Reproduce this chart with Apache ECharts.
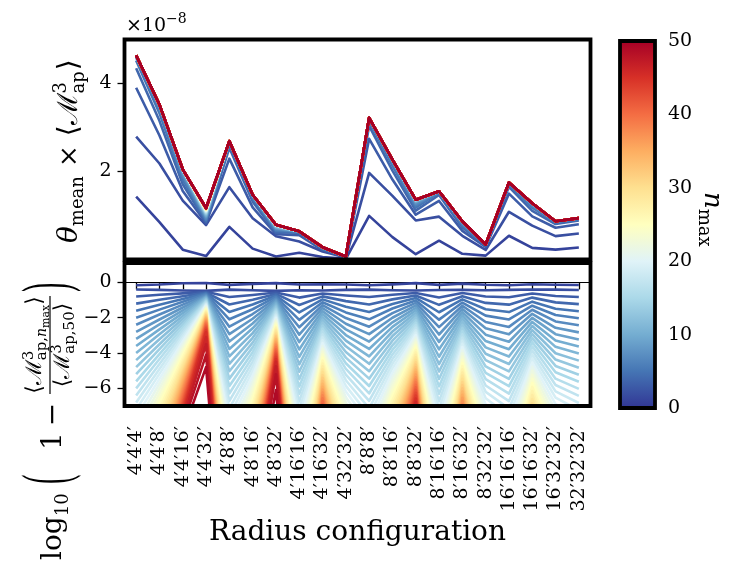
<!DOCTYPE html>
<html>
<head>
<meta charset="utf-8">
<title>Aperture mass convergence in n_max</title>
<script src="https://cdn.jsdelivr.net/npm/echarts@6/dist/echarts.min.js"></script>
<style>
  html, body { margin: 0; padding: 0; background: #fff; }
  #chart { width: 747px; height: 568px; }
</style>
</head>
<body>
<div id="chart"></div>
<script>
// radius configurations on the x axis
const radii = ["4′4′4′", "4′4′8′", "4′4′16′", "4′4′32′", "4′8′8′", "4′8′16′", "4′8′32′",
  "4′16′16′", "4′16′32′", "4′32′32′", "8′8′8′", "8′8′16′", "8′8′32′", "8′16′16′",
  "8′16′32′", "8′32′32′", "16′16′16′", "16′16′32′", "16′32′32′", "32′32′32′"];

// converged curve (n_max = 50) of the top panel, units of 1e-8
const m50 = [4.64, 3.52, 2.05, 1.17, 2.69, 1.47, 0.79, 0.64, 0.28, 0.07,
  3.22, 2.27, 1.36, 1.55, 0.87, 0.34, 1.75, 1.28, 0.87, 0.94];

// log10(1 - <M_ap,n>/<M_ap,50>) for n_max = 1..49, one array per radius configuration
const d444 = [-0.16, -0.40, -0.80, -1.20, -1.60, -2.00, -2.40, -2.80, -3.20, -3.60, -4.00, -4.40, -4.80, -5.20, -5.60, -6.00, -6.40, -6.80, -7.20, -7.60, -8.00, -8.40, -8.80, -9.20, -9.60, -10.00, -10.40, -10.80, -11.20, -11.60, -12.00, -12.40, -12.80, -13.20, -13.60, -14.00, -14.40, -14.80, -15.20, -15.60, -16.00, -16.40, -16.80, -17.20, -17.60, -18.00, -18.40, -18.80, -19.20];
const d448 = [-0.12, -0.42, -0.70, -0.98, -1.26, -1.54, -1.82, -2.10, -2.38, -2.66, -2.94, -3.22, -3.50, -3.78, -4.06, -4.34, -4.62, -4.90, -5.18, -5.46, -5.74, -6.02, -6.30, -6.58, -6.86, -7.14, -7.42, -7.70, -7.98, -8.26, -8.54, -8.82, -9.10, -9.38, -9.66, -9.94, -10.22, -10.50, -10.78, -11.06, -11.34, -11.62, -11.90, -12.18, -12.46, -12.74, -13.02, -13.30, -13.58];
const d4416 = [-0.05, -0.46, -0.62, -0.78, -0.94, -1.10, -1.26, -1.42, -1.58, -1.74, -1.90, -2.06, -2.22, -2.38, -2.54, -2.70, -2.86, -3.02, -3.18, -3.34, -3.50, -3.66, -3.82, -3.98, -4.14, -4.30, -4.46, -4.62, -4.78, -4.94, -5.10, -5.26, -5.42, -5.58, -5.74, -5.90, -6.06, -6.22, -6.38, -6.55, -6.72, -6.88, -7.05, -7.23, -7.42, -7.61, -7.84, -8.10, -8.49];
const d4432 = [-0.03, -0.48, -0.53, -0.57, -0.62, -0.66, -0.71, -0.76, -0.80, -0.85, -0.89, -0.94, -0.98, -1.03, -1.08, -1.12, -1.17, -1.22, -1.26, -1.31, -1.36, -1.40, -1.45, -1.50, -1.55, -1.60, -1.65, -1.70, -1.75, -1.80, -1.85, -1.90, -1.96, -2.01, -2.07, -2.13, -2.19, -2.25, -2.31, -2.38, -2.45, -2.53, -2.61, -2.70, -2.81, -3.10, -3.50, -4.10, -4.80];
const d488 = [-0.14, -0.41, -0.83, -1.25, -1.67, -2.09, -2.51, -2.93, -3.35, -3.77, -4.19, -4.61, -5.03, -5.45, -5.87, -6.29, -6.71, -7.13, -7.55, -7.97, -8.39, -8.81, -9.23, -9.65, -10.07, -10.49, -10.91, -11.33, -11.75, -12.17, -12.59, -13.01, -13.43, -13.85, -14.27, -14.69, -15.11, -15.53, -15.95, -16.37, -16.79, -17.21, -17.63, -18.05, -18.47, -18.89, -19.31, -19.73, -20.15];
const d4816 = [-0.08, -0.44, -0.71, -0.98, -1.25, -1.52, -1.79, -2.06, -2.33, -2.60, -2.87, -3.14, -3.41, -3.68, -3.95, -4.22, -4.49, -4.76, -5.03, -5.30, -5.57, -5.84, -6.11, -6.38, -6.65, -6.92, -7.19, -7.46, -7.73, -8.00, -8.27, -8.54, -8.81, -9.08, -9.35, -9.62, -9.89, -10.16, -10.43, -10.70, -10.97, -11.24, -11.51, -11.78, -12.05, -12.32, -12.59, -12.86, -13.13];
const d4832 = [-0.04, -0.48, -0.57, -0.65, -0.74, -0.82, -0.91, -0.99, -1.08, -1.16, -1.25, -1.33, -1.42, -1.50, -1.59, -1.67, -1.76, -1.84, -1.93, -2.01, -2.10, -2.18, -2.27, -2.35, -2.44, -2.52, -2.61, -2.70, -2.78, -2.87, -2.96, -3.04, -3.13, -3.22, -3.31, -3.40, -3.49, -3.58, -3.68, -3.78, -3.88, -3.98, -4.09, -4.21, -4.34, -4.49, -4.75, -5.20, -6.10];
const d41616 = [-0.12, -0.44, -0.86, -1.28, -1.70, -2.12, -2.54, -2.96, -3.38, -3.80, -4.22, -4.64, -5.06, -5.48, -5.90, -6.32, -6.74, -7.16, -7.58, -8.00, -8.42, -8.84, -9.26, -9.68, -10.10, -10.52, -10.94, -11.36, -11.78, -12.20, -12.62, -13.04, -13.46, -13.88, -14.30, -14.72, -15.14, -15.56, -15.98, -16.40, -16.82, -17.24, -17.66, -18.08, -18.50, -18.92, -19.34, -19.76, -20.18];
const d41632 = [-0.10, -0.46, -0.63, -0.79, -0.96, -1.12, -1.29, -1.45, -1.62, -1.78, -1.95, -2.11, -2.28, -2.44, -2.61, -2.77, -2.94, -3.10, -3.27, -3.43, -3.60, -3.76, -3.93, -4.09, -4.26, -4.42, -4.59, -4.75, -4.92, -5.08, -5.25, -5.41, -5.58, -5.74, -5.91, -6.07, -6.24, -6.40, -6.57, -6.74, -6.91, -7.08, -7.26, -7.44, -7.63, -7.83, -8.05, -8.32, -8.72];
const d43232 = [-0.12, -0.42, -0.74, -1.06, -1.38, -1.70, -2.02, -2.34, -2.66, -2.98, -3.30, -3.62, -3.94, -4.26, -4.58, -4.90, -5.22, -5.54, -5.86, -6.18, -6.50, -6.82, -7.14, -7.46, -7.78, -8.10, -8.42, -8.74, -9.06, -9.38, -9.70, -10.02, -10.34, -10.66, -10.98, -11.30, -11.62, -11.94, -12.26, -12.58, -12.90, -13.22, -13.54, -13.86, -14.18, -14.50, -14.82, -15.14, -15.46];
const d888 = [-0.16, -0.41, -0.83, -1.25, -1.67, -2.09, -2.51, -2.93, -3.35, -3.77, -4.19, -4.61, -5.03, -5.45, -5.87, -6.29, -6.71, -7.13, -7.55, -7.97, -8.39, -8.81, -9.23, -9.65, -10.07, -10.49, -10.91, -11.33, -11.75, -12.17, -12.59, -13.01, -13.43, -13.85, -14.27, -14.69, -15.11, -15.53, -15.95, -16.37, -16.79, -17.21, -17.63, -18.05, -18.47, -18.89, -19.31, -19.73, -20.15];
const d8816 = [-0.11, -0.44, -0.70, -0.96, -1.22, -1.48, -1.74, -2.00, -2.26, -2.52, -2.78, -3.04, -3.30, -3.56, -3.82, -4.08, -4.34, -4.60, -4.86, -5.12, -5.38, -5.64, -5.90, -6.16, -6.42, -6.68, -6.94, -7.20, -7.46, -7.72, -7.98, -8.24, -8.50, -8.76, -9.02, -9.28, -9.54, -9.80, -10.06, -10.32, -10.58, -10.84, -11.10, -11.36, -11.62, -11.88, -12.14, -12.40, -12.66];
const d8832 = [-0.04, -0.46, -0.60, -0.74, -0.88, -1.02, -1.16, -1.30, -1.44, -1.58, -1.72, -1.86, -2.00, -2.14, -2.28, -2.42, -2.56, -2.70, -2.84, -2.98, -3.12, -3.26, -3.40, -3.54, -3.68, -3.82, -3.96, -4.10, -4.24, -4.38, -4.52, -4.66, -4.80, -4.94, -5.08, -5.22, -5.37, -5.51, -5.65, -5.80, -5.94, -6.09, -6.25, -6.41, -6.58, -6.76, -6.97, -7.22, -7.60];
const d81616 = [-0.14, -0.43, -0.85, -1.27, -1.69, -2.11, -2.53, -2.95, -3.37, -3.79, -4.21, -4.63, -5.05, -5.47, -5.89, -6.31, -6.73, -7.15, -7.57, -7.99, -8.41, -8.83, -9.25, -9.67, -10.09, -10.51, -10.93, -11.35, -11.77, -12.19, -12.61, -13.03, -13.45, -13.87, -14.29, -14.71, -15.13, -15.55, -15.97, -16.39, -16.81, -17.23, -17.65, -18.07, -18.49, -18.91, -19.33, -19.75, -20.17];
const d81632 = [-0.07, -0.42, -0.60, -0.78, -0.96, -1.14, -1.32, -1.50, -1.68, -1.86, -2.04, -2.22, -2.40, -2.58, -2.76, -2.94, -3.12, -3.30, -3.48, -3.66, -3.84, -4.02, -4.20, -4.38, -4.56, -4.74, -4.92, -5.10, -5.28, -5.46, -5.64, -5.82, -6.00, -6.18, -6.36, -6.54, -6.72, -6.90, -7.09, -7.27, -7.45, -7.64, -7.82, -8.02, -8.22, -8.43, -8.67, -8.95, -9.35];
const d83232 = [-0.13, -0.44, -0.80, -1.16, -1.52, -1.88, -2.24, -2.60, -2.96, -3.32, -3.68, -4.04, -4.40, -4.76, -5.12, -5.48, -5.84, -6.20, -6.56, -6.92, -7.28, -7.64, -8.00, -8.36, -8.72, -9.08, -9.44, -9.80, -10.16, -10.52, -10.88, -11.24, -11.60, -11.96, -12.32, -12.68, -13.04, -13.40, -13.76, -14.12, -14.48, -14.84, -15.20, -15.56, -15.92, -16.28, -16.64, -17.00, -17.36];
const d161616 = [-0.16, -0.42, -0.84, -1.26, -1.68, -2.10, -2.52, -2.94, -3.36, -3.78, -4.20, -4.62, -5.04, -5.46, -5.88, -6.30, -6.72, -7.14, -7.56, -7.98, -8.40, -8.82, -9.24, -9.66, -10.08, -10.50, -10.92, -11.34, -11.76, -12.18, -12.60, -13.02, -13.44, -13.86, -14.28, -14.70, -15.12, -15.54, -15.96, -16.38, -16.80, -17.22, -17.64, -18.06, -18.48, -18.90, -19.32, -19.74, -20.16];
const d161632 = [-0.10, -0.40, -0.63, -0.86, -1.09, -1.32, -1.55, -1.78, -2.01, -2.24, -2.47, -2.70, -2.93, -3.16, -3.39, -3.62, -3.85, -4.08, -4.31, -4.54, -4.77, -5.00, -5.23, -5.46, -5.69, -5.92, -6.15, -6.38, -6.61, -6.84, -7.07, -7.30, -7.53, -7.76, -7.99, -8.22, -8.45, -8.68, -8.91, -9.14, -9.37, -9.60, -9.83, -10.06, -10.29, -10.58, -10.85, -11.17, -11.60];
const d163232 = [-0.13, -0.41, -0.77, -1.13, -1.49, -1.85, -2.21, -2.57, -2.93, -3.29, -3.65, -4.01, -4.37, -4.73, -5.09, -5.45, -5.81, -6.17, -6.53, -6.89, -7.25, -7.61, -7.97, -8.33, -8.69, -9.05, -9.41, -9.77, -10.13, -10.49, -10.85, -11.21, -11.57, -11.93, -12.29, -12.65, -13.01, -13.37, -13.73, -14.09, -14.45, -14.81, -15.17, -15.53, -15.89, -16.25, -16.61, -16.97, -17.33];
const d323232 = [-0.15, -0.43, -0.83, -1.23, -1.63, -2.03, -2.43, -2.83, -3.23, -3.63, -4.03, -4.43, -4.83, -5.23, -5.63, -6.03, -6.43, -6.83, -7.23, -7.63, -8.03, -8.43, -8.83, -9.23, -9.63, -10.03, -10.43, -10.83, -11.23, -11.63, -12.03, -12.43, -12.83, -13.23, -13.63, -14.03, -14.43, -14.83, -15.23, -15.63, -16.03, -16.43, -16.83, -17.23, -17.63, -18.03, -18.43, -18.83, -19.23];

const logDev = [d444, d448, d4416, d4432, d488, d4816, d4832, d41616, d41632, d43232,
  d888, d8816, d8832, d81616, d81632, d83232, d161616, d161632, d163232, d323232];

const NMAX = 50;
const topTicks = [2, 4];
const botTicks = [-6, -4, -2, 0];
const cbTicks = [0, 10, 20, 30, 40, 50];

// ---- layout ----
const SERIF = "'DejaVu Serif', serif";
const GL = 124.5, GW = 466;
const T_Y = 39.5, T_H = 220;
const B_Y = 263, B_H = 143;
const CB = { x: 620, y: 41, w: 35, h: 367 };

// RdYlBu_r
const rdylbu = ['#313695', '#4575b4', '#74add1', '#abd9e9', '#e0f3f8', '#ffffbf',
  '#fee090', '#fdae61', '#f46d43', '#d73027', '#a50026'];
function hex(c) { return [1, 3, 5].map(i => parseInt(c.substr(i, 2), 16)); }
function cmap(t) {
  const p = Math.min(Math.max(t, 0), 1) * 10;
  const i = Math.min(Math.floor(p), 9);
  const f = p - i;
  const a = hex(rdylbu[i]), b = hex(rdylbu[i + 1]);
  return 'rgb(' + a.map((v, k) => Math.round(v + (b[k] - v) * f)).join(',') + ')';
}

const series = [];
// top panel: n_max = 1..50, the curve of each n follows from its deviation to n = 50
for (let n = 1; n <= NMAX; n++) {
  const col = cmap(n / NMAX);
  series.push({
    type: 'line', xAxisIndex: 0, yAxisIndex: 0, silent: true, symbol: 'none',
    data: m50.map((m, c) => n === NMAX ? m : m * (1 - Math.pow(10, logDev[c][n - 1]))),
    lineStyle: { width: 2.6, color: col, join: 'round' }, itemStyle: { color: col }
  });
}
// bottom panel: n_max = 1..49
for (let n = 1; n < NMAX; n++) {
  const col = cmap(n / NMAX);
  series.push({
    type: 'line', xAxisIndex: 1, yAxisIndex: 1, silent: true, symbol: 'none',
    data: logDev.map(d => d[n - 1]),
    lineStyle: { width: 2.6, color: col, join: 'round' }, itemStyle: { color: col }
  });
}

// ---- math labels built from text pieces ----
const mctx = document.createElement('canvas').getContext('2d');
function fontOf(p) { return (p.italic ? 'italic ' : '') + p.size + 'px ' + SERIF; }
function widthOf(p) { mctx.font = fontOf(p); return mctx.measureText(p.t).width; }
function setPieces(pieces, x0, base) {
  let x = x0, prevStart = x0, prevEnd = x0;
  const kids = [];
  pieces.forEach(p => {
    const w = widthOf(p);
    const start = p.stack ? prevStart : x + (p.gap || 0);
    const end = start + w;
    x = p.stack ? Math.max(prevEnd, end) : end;
    prevStart = start; prevEnd = end;
    kids.push({
      type: 'text', x: start, y: base + (p.dy || 0) - 0.34 * p.size,
      style: { text: p.t, font: fontOf(p), fill: '#000', align: 'left', verticalAlign: 'middle' }
    });
  });
  return { kids: kids, width: x - x0 };
}
function centred(pieces, cx, base) {
  const w = setPieces(pieces, 0, base).width;
  return setPieces(pieces, cx - w / 2, base).kids;
}
function paren(ch, x) {
  return { type: 'text', x: x, y: -13, scaleY: 2.35,
    style: { text: ch, font: "28px 'Liberation Serif', serif", fill: '#000', align: 'left', verticalAlign: 'middle' } };
}

const topLabel = setPieces([
  { t: 'θ', size: 28, italic: true },
  { t: 'mean', size: 18, dy: 5 },
  { t: '×', size: 26, gap: 9 },
  { t: '⟨', size: 28, gap: 9 },
  { t: 'ℳ', size: 28 },
  { t: '3', size: 18, dy: -12 },
  { t: 'ap', size: 18, dy: 6, stack: true },
  { t: '⟩', size: 28, gap: 1 }
], 0, 0).kids;

const num = [
  { t: '⟨', size: 22 }, { t: 'ℳ', size: 22 },
  { t: '3', size: 15, dy: -9 }, { t: 'ap,', size: 15, dy: 4, stack: true },
  { t: 'n', size: 14, italic: true, dy: 4 }, { t: 'max', size: 11, dy: 7 },
  { t: '⟩', size: 22 }
];
const den = [
  { t: '⟨', size: 22 }, { t: 'ℳ', size: 22 },
  { t: '3', size: 15, dy: -9 }, { t: 'ap,50', size: 15, dy: 4, stack: true },
  { t: '⟩', size: 22 }
];
const botLabel = [].concat(
  setPieces([{ t: 'log', size: 28 }, { t: '10', size: 18, dy: 6 }], 0, 0).kids,
  [paren('(', 76)],
  setPieces([{ t: '1', size: 28 }, { t: '−', size: 28, gap: 6 }], 110, 0).kids,
  [{ type: 'line', shape: { x1: 166, y1: -13, x2: 264, y2: -13 }, style: { stroke: '#000', lineWidth: 1.2 } }],
  centred(num, 215, -20),
  centred(den, 215, 8),
  [paren(')', 268)]
);

const cbLabel = setPieces([{ t: 'n', size: 26, italic: true }, { t: 'max', size: 18, dy: 5 }], 0, 0).kids;
const scaleLabel = setPieces([{ t: '×10', size: 19 }, { t: '−8', size: 14, dy: -9 }], 0, 0).kids;

function frame(x, y, w, h) {
  return { type: 'rect', z: 100, silent: true, shape: { x: x, y: y, width: w, height: h },
    style: { fill: 'none', stroke: '#000', lineWidth: 3.8 } };
}

const tickStyle = { color: '#000', width: 1.3 };
const yLabelStyle = { color: '#000', fontFamily: SERIF, fontSize: 19 };
const minus = v => (v < 0 ? '\u2212' + Math.abs(v) : String(v));

const option = {
  animation: false,
  backgroundColor: '#fff',
  grid: [
    { left: GL, top: T_Y, width: GW, height: T_H },
    { left: GL, top: B_Y, width: GW, height: B_H },
    { left: CB.x, top: CB.y, width: CB.w, height: CB.h }
  ],
  xAxis: [
    { gridIndex: 0, type: 'category', data: radii, boundaryGap: true,
      axisLine: { show: false }, axisTick: { show: false }, axisLabel: { show: false } },
    { gridIndex: 1, type: 'category', data: radii, boundaryGap: true,
      axisLine: { show: true, lineStyle: { color: '#000', width: 1 } },
      axisTick: { show: true, alignWithLabel: true, length: 7, lineStyle: tickStyle },
      axisLabel: { interval: 0, rotate: 90, margin: 20, hideOverlap: false,
        formatter: v => '{t|' + v + '}',
        rich: { t: { fontFamily: SERIF, fontSize: 19, color: '#000' } } },
      name: 'Radius configuration', nameLocation: 'middle', nameGap: 113,
      nameTextStyle: { color: '#000', fontFamily: SERIF, fontSize: 28 } },
    { gridIndex: 2, type: 'value', show: false, min: 0, max: 1 }
  ],
  yAxis: [
    { gridIndex: 0, type: 'value', min: 0, max: 5, splitLine: { show: false },
      axisLine: { show: false },
      axisTick: { show: true, length: 7, lineStyle: tickStyle, customValues: topTicks },
      axisLabel: Object.assign({ margin: 13, customValues: topTicks }, yLabelStyle) },
    { gridIndex: 1, type: 'value', min: -7, max: 1.1, splitLine: { show: false },
      axisLine: { show: false },
      axisTick: { show: true, length: 7, lineStyle: tickStyle, customValues: botTicks },
      axisLabel: Object.assign({ margin: 13, customValues: botTicks, formatter: minus }, yLabelStyle) },
    { gridIndex: 2, type: 'value', position: 'right', min: 0, max: 50, splitLine: { show: false },
      axisLine: { show: false },
      axisTick: { show: true, length: 7, lineStyle: tickStyle, customValues: cbTicks },
      axisLabel: Object.assign({ margin: 13, customValues: cbTicks }, yLabelStyle) }
  ],
  graphic: [
    { type: 'rect', z: 1, silent: true, shape: { x: CB.x, y: CB.y, width: CB.w, height: CB.h },
      style: { fill: new echarts.graphic.LinearGradient(0, 1, 0, 0,
        rdylbu.map((c, i) => ({ offset: i / 10, color: c }))) } },
    frame(GL, T_Y, GW, T_H),
    frame(GL, B_Y, GW, B_H),
    frame(CB.x, CB.y, CB.w, CB.h),
    { type: 'group', x: 126, y: 33, silent: true, children: scaleLabel },
    { type: 'group', x: 79, y: 243, rotation: Math.PI / 2, silent: true, children: topLabel },
    { type: 'group', x: 63, y: 560, rotation: Math.PI / 2, silent: true, children: botLabel },
    { type: 'group', x: 703, y: 192, rotation: -Math.PI / 2, silent: true, children: cbLabel }
  ],
  series: series
};

const chart = echarts.init(document.getElementById('chart'), null, { renderer: 'canvas' });
chart.setOption(option);
</script>
</body>
</html>
